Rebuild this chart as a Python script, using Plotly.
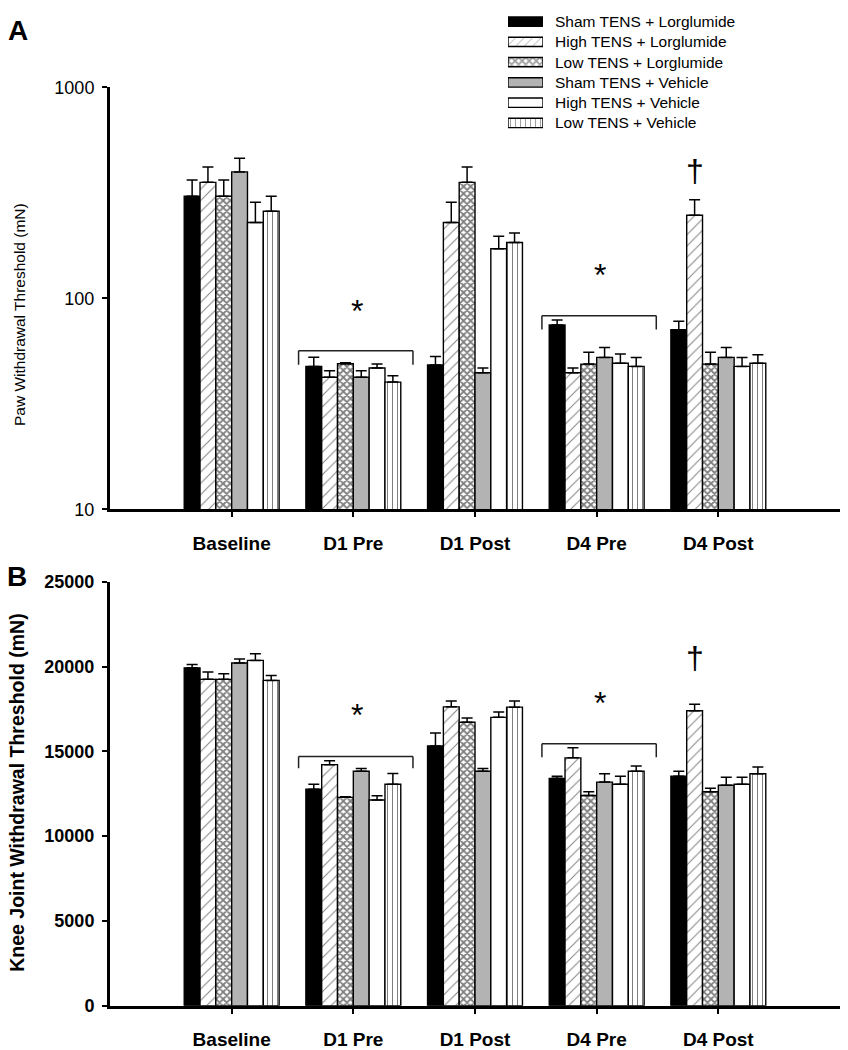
import math
import plotly.graph_objects as go

# ---------------- data ----------------
categories = ["Baseline", "D1 Pre", "D1 Post", "D4 Pre", "D4 Post"]
series_names = ["Sham TENS + Lorglumide", "High TENS + Lorglumide", "Low TENS + Lorglumide",
                "Sham TENS + Vehicle", "High TENS + Vehicle", "Low TENS + Vehicle"]

# Panel A: paw withdrawal threshold (mN), mean and SEM
paw_sham_lorg = [305, 47.6, 48.3, 74.8, 71]
paw_high_lorg = [355, 42.3, 229, 44.4, 248]
paw_low_lorg = [305, 49.0, 355, 48.8, 48.8]
paw_sham_veh = [398, 42.3, 44.4, 52.5, 52.5]
paw_high_veh = [229, 46.8, 172, 49.3, 47.6]
paw_low_veh = [259, 40.1, 184, 47.6, 49.3]

paw_sham_lorg_sem = [59, 5.0, 4.7, 4.2, 7]
paw_high_lorg_sem = [65, 3.1, 57, 2.4, 46]
paw_low_lorg_sem = [59, 0.5, 65, 6.7, 6.7]
paw_sham_veh_sem = [64, 3.1, 2.4, 6.0, 6.0]
paw_high_veh_sem = [57, 2.1, 25, 5.2, 4.9]
paw_low_veh_sem = [46, 2.9, 20, 4.9, 4.7]

# Panel B: knee joint withdrawal threshold (mN), mean and SEM
knee_sham_lorg = [19930, 12770, 15320, 13410, 13540]
knee_high_lorg = [19250, 14220, 17630, 14620, 17400]
knee_low_lorg = [19250, 12290, 16720, 12400, 12620]
knee_sham_veh = [20220, 13830, 13830, 13190, 13000]
knee_high_veh = [20370, 12130, 17010, 13060, 13060]
knee_low_veh = [19190, 13060, 17610, 13830, 13680]

knee_sham_lorg_sem = [190, 290, 770, 130, 290]
knee_high_lorg_sem = [430, 230, 350, 600, 380]
knee_low_lorg_sem = [330, 30, 250, 220, 210]
knee_sham_veh_sem = [230, 160, 160, 490, 470]
knee_high_veh_sem = [390, 250, 310, 480, 410]
knee_low_veh_sem = [290, 640, 370, 310, 400]

paw_ticks = [10, 100, 1000]
paw_ticktext = ["10", "100", "1000"]

# significance markers
sig_cats = ["D1 Pre", "D4 Pre"]
paw_star_y = [87, 129]
paw_bracket_top = [56.5, 82.8]
paw_bracket_end = [48.4, 71.3]
knee_star_y = [17130, 17880]
knee_bracket_top = [14700, 15450]
knee_bracket_end = [14000, 14660]
dagger_cat = "D4 Post"
paw_dagger_y = 401
knee_dagger_y = 20500

paw_means = [paw_sham_lorg, paw_high_lorg, paw_low_lorg, paw_sham_veh, paw_high_veh, paw_low_veh]
paw_sems = [paw_sham_lorg_sem, paw_high_lorg_sem, paw_low_lorg_sem, paw_sham_veh_sem,
            paw_high_veh_sem, paw_low_veh_sem]
knee_means = [knee_sham_lorg, knee_high_lorg, knee_low_lorg, knee_sham_veh, knee_high_veh, knee_low_veh]
knee_sems = [knee_sham_lorg_sem, knee_high_lorg_sem, knee_low_lorg_sem, knee_sham_veh_sem,
             knee_high_veh_sem, knee_low_veh_sem]

# ---------------- styles ----------------
FONT = "Liberation Sans, Arial, sans-serif"
fill_colors = ["#000000", "#ffffff", "#ffffff", "#b3b3b3", "#ffffff", "#ffffff"]
pattern_shapes = ["", "/", "x", "", "", "|"]
pattern_sizes = [8, 8, 5, 8, 8, 5]
pattern_solid = [0.3, 0.12, 0.6, 0.3, 0.3, 0.2]

W, H = 848, 1050


def px_x(p):
    return p / W


def px_y(p):
    return 1 - p / H


fig = go.Figure()


def add_panel(means, sems, xa, ya):
    for i, name in enumerate(series_names):
        fig.add_trace(go.Bar(
            x=categories, y=means[i], name=name, showlegend=False,
            xaxis=xa, yaxis=ya,
            marker=dict(color=fill_colors[i],
                        line=dict(color="black", width=1.4),
                        pattern=dict(shape=pattern_shapes[i], fgcolor="black",
                                     bgcolor=fill_colors[i], size=pattern_sizes[i],
                                     solidity=pattern_solid[i])),
            error_y=dict(type="data", array=sems[i], arrayminus=[0] * len(sems[i]),
                         symmetric=False, color="black", thickness=1.5, width=5.5),
        ))


add_panel(paw_means, paw_sems, "x", "y")
add_panel(knee_means, knee_sems, "x2", "y2")

# custom legend swatches (wide rectangles like the original)
fig.add_trace(go.Bar(
    y=series_names, x=[1] * len(series_names), orientation="h", width=0.46,
    xaxis="x3", yaxis="y3", showlegend=False, hoverinfo="skip",
    marker=dict(color=fill_colors, line=dict(color="black", width=1.4),
                pattern=dict(shape=pattern_shapes, fgcolor="black", bgcolor=fill_colors,
                             size=[6, 6, 5, 6, 6, 5], solidity=[0.3, 0.14, 0.6, 0.3, 0.3, 0.2])),
))

axis_common = dict(showline=True, linewidth=3, linecolor="black", showgrid=False,
                   zeroline=False, ticks="outside", tickcolor="black", tickwidth=1.5, ticklen=5)

xcat = dict(type="category", range=[-1, 5], categoryorder="array", categoryarray=categories,
            tickfont=dict(family=FONT, size=19, color="black", weight="bold"),
            ticklabelstandoff=10, **axis_common)

fig.update_layout(
    width=W, height=H, autosize=False,
    margin=dict(l=0, r=0, t=0, b=0),
    paper_bgcolor="white", plot_bgcolor="white",
    barmode="group", bargap=0.22, bargroupgap=0,
    showlegend=False,
    xaxis=dict(domain=[px_x(110), px_x(840)], anchor="y", **xcat),
    yaxis=dict(domain=[px_y(509), px_y(79)], anchor="x", type="log", range=[1, 3],
               tickvals=paw_ticks, ticktext=paw_ticktext,
               tickfont=dict(family=FONT, size=18, color="black"),
               ticklabelstandoff=4, **axis_common),
    xaxis2=dict(domain=[px_x(110), px_x(840)], anchor="y2", **xcat),
    yaxis2=dict(domain=[px_y(1015), px_y(583)], anchor="x2", range=[0, 25000], dtick=5000,
                tickformat="d",
                tickfont=dict(family=FONT, size=18, color="black", weight="bold"),
                ticklabelstandoff=4, **axis_common),
    xaxis3=dict(domain=[px_x(508), px_x(543)], anchor="y3", range=[0, 1], visible=False),
    yaxis3=dict(domain=[px_y(125.5), px_y(1.5)], anchor="x3", type="category",
                range=[5.5, -0.5], visible=False),
)

annotations = []
shapes = []

# legend text
for name in series_names:
    annotations.append(dict(x=px_x(553), y=name, xref="paper", yref="y3", text=name,
                            showarrow=False, xanchor="left", yanchor="middle",
                            font=dict(family=FONT, size=15.5, color="black")))

# panel letters
annotations.append(dict(x=px_x(6), y=px_y(21), xref="paper", yref="paper", text="<b>A</b>",
                        showarrow=False, xanchor="left", yanchor="middle",
                        font=dict(family=FONT, size=28, color="black")))
annotations.append(dict(x=px_x(5), y=px_y(577), xref="paper", yref="paper", text="<b>B</b>",
                        showarrow=False, xanchor="left", yanchor="middle",
                        font=dict(family=FONT, size=28, color="black")))

# y axis titles
annotations.append(dict(x=px_x(19), y=px_y(311), xref="paper", yref="paper",
                        text="Paw Withdrawal Threshold (mN)", textangle=-90, showarrow=False,
                        xanchor="center", yanchor="middle",
                        font=dict(family=FONT, size=15.5, color="black")))
annotations.append(dict(x=px_x(17), y=px_y(798), xref="paper", yref="paper",
                        text="<b>Knee Joint Withdrawal Threshold (mN)</b>", textangle=-90,
                        showarrow=False, xanchor="center", yanchor="middle",
                        font=dict(family=FONT, size=19.5, color="black")))

cat_index = {c: i for i, c in enumerate(categories)}


def add_sig(xref, yref, star_y, btop, bend, logaxis):
    for k, c in enumerate(sig_cats):
        ci = cat_index[c]
        x0, x1 = ci - 0.45, ci + 0.49
        ys = math.log10(star_y[k]) if logaxis else star_y[k]
        annotations.append(dict(x=ci + 0.03, y=ys, xref=xref, yref=yref, text="*",
                                showarrow=False, xanchor="center", yanchor="middle",
                                font=dict(family=FONT, size=32, color="black")))
        ln = dict(color="#222222", width=1.5)
        shapes.append(dict(type="line", xref=xref, yref=yref, x0=x0, x1=x1,
                           y0=btop[k], y1=btop[k], line=ln))
        shapes.append(dict(type="line", xref=xref, yref=yref, x0=x0, x1=x0,
                           y0=btop[k], y1=bend[k], line=ln))
        shapes.append(dict(type="line", xref=xref, yref=yref, x0=x1, x1=x1,
                           y0=btop[k], y1=bend[k], line=ln))


add_sig("x", "y", paw_star_y, paw_bracket_top, paw_bracket_end, True)
add_sig("x2", "y2", knee_star_y, knee_bracket_top, knee_bracket_end, False)

dag_x = cat_index[dagger_cat] - 0.195
annotations.append(dict(x=dag_x, y=math.log10(paw_dagger_y), xref="x", yref="y", text="†",
                        showarrow=False, xanchor="center", yanchor="middle",
                        font=dict(family=FONT, size=32, color="black")))
annotations.append(dict(x=dag_x, y=knee_dagger_y, xref="x2", yref="y2", text="†",
                        showarrow=False, xanchor="center", yanchor="middle",
                        font=dict(family=FONT, size=32, color="black")))

fig.update_layout(annotations=annotations, shapes=shapes)

fig.write_html("out.html", config={"displayModeBar": False},
               post_script="document.body.style.margin='0';document.body.style.overflow='hidden';")
